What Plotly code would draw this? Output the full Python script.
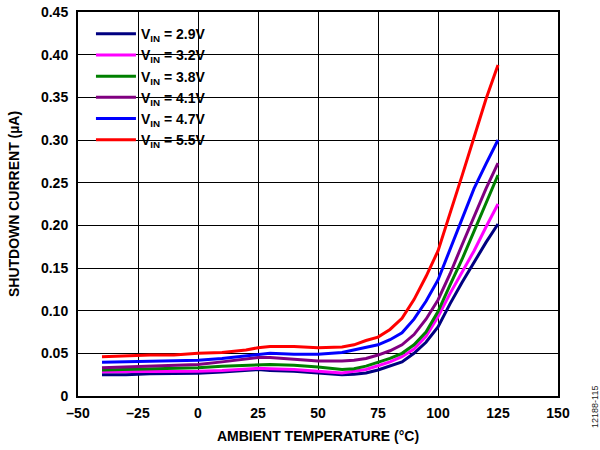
import plotly.graph_objects as go

temps = [-40, -30, -20, -10, 0, 10, 20, 25, 30, 40, 50, 60, 65, 70, 75, 80, 85, 90, 95, 100, 105, 110, 115, 120, 125]

i_29 = [0.025, 0.025, 0.026, 0.026, 0.0266, 0.028, 0.030, 0.031, 0.030, 0.029, 0.027, 0.025, 0.0255, 0.027, 0.0305, 0.035, 0.040, 0.050, 0.063, 0.081, 0.108, 0.133, 0.157, 0.180, 0.2016]
i_32 = [0.0285, 0.0285, 0.029, 0.029, 0.029, 0.030, 0.032, 0.0325, 0.032, 0.031, 0.029, 0.027, 0.029, 0.031, 0.0355, 0.040, 0.046, 0.055, 0.070, 0.093, 0.120, 0.145, 0.170, 0.198, 0.225]
i_38 = [0.0305, 0.031, 0.032, 0.032, 0.033, 0.035, 0.036, 0.037, 0.037, 0.036, 0.034, 0.031, 0.032, 0.035, 0.0395, 0.044, 0.050, 0.060, 0.075, 0.099, 0.130, 0.160, 0.193, 0.227, 0.259]
i_41 = [0.033, 0.034, 0.035, 0.036, 0.037, 0.040, 0.043, 0.045, 0.045, 0.043, 0.041, 0.041, 0.042, 0.044, 0.048, 0.053, 0.060, 0.072, 0.090, 0.1125, 0.143, 0.177, 0.210, 0.243, 0.273]
i_47 = [0.0395, 0.040, 0.041, 0.041, 0.042, 0.044, 0.047, 0.049, 0.050, 0.049, 0.049, 0.051, 0.054, 0.057, 0.060, 0.066, 0.074, 0.090, 0.111, 0.136, 0.172, 0.208, 0.243, 0.272, 0.300]
i_55 = [0.046, 0.047, 0.048, 0.048, 0.050, 0.051, 0.054, 0.0565, 0.058, 0.058, 0.0565, 0.0575, 0.060, 0.065, 0.069, 0.078, 0.091, 0.113, 0.140, 0.170, 0.213, 0.258, 0.303, 0.348, 0.388]

series_names = ["V<sub>IN</sub> = 2.9V", "V<sub>IN</sub> = 3.2V", "V<sub>IN</sub> = 3.8V",
                "V<sub>IN</sub> = 4.1V", "V<sub>IN</sub> = 4.7V", "V<sub>IN</sub> = 5.5V"]
series_values = [i_29, i_32, i_38, i_41, i_47, i_55]
series_colors = ["#000080", "#FF00FF", "#008000", "#800080", "#0000FF", "#FF0000"]

x_ticks = [-50, -25, 0, 25, 50, 75, 100, 125, 150]
x_ticktext = ["–50", "–25", "0", "25", "50", "75", "100", "125", "150"]
y_ticks = [0, 0.05, 0.10, 0.15, 0.20, 0.25, 0.30, 0.35, 0.40, 0.45]
y_ticktext = ["0", "0.05", "0.10", "0.15", "0.20", "0.25", "0.30", "0.35", "0.40", "0.45"]

font_family = "Liberation Sans, Arial, sans-serif"

fig = go.Figure()
for name, vals, col in zip(series_names, series_values, series_colors):
    fig.add_trace(go.Scatter(x=temps, y=vals, mode="lines", name=name,
                             line=dict(color=col, width=3)))

# white patch behind the legend (covers gridlines, not ticks)
fig.add_shape(type="rect", xref="paper", yref="paper", x0=0.003, x1=0.306, y0=0.645, y1=0.997,
              fillcolor="white", line=dict(width=0), layer="between")

axis_common = dict(showline=True, linecolor="black", linewidth=2, mirror="ticks",
                   ticks="inside", ticklen=5, tickcolor="black", tickwidth=1,
                   showgrid=True, gridcolor="black", gridwidth=1, zeroline=False,
                   automargin=False, ticklabeloverflow="allow",
                   tickfont=dict(family=font_family, size=14, color="black", weight="bold"))

fig.update_xaxes(range=[-50, 150], tickvals=x_ticks, ticktext=x_ticktext, ticklabelstandoff=3,
                 title=dict(text="AMBIENT TEMPERATURE (°C)", standoff=11,
                            font=dict(family=font_family, size=14, color="black", weight="bold")),
                 **axis_common)
fig.update_yaxes(range=[0, 0.45], tickvals=y_ticks, ticktext=y_ticktext, ticklabelstandoff=5,
                 title=dict(text="SHUTDOWN CURRENT (µA)", standoff=18,
                            font=dict(family=font_family, size=14, color="black", weight="bold")),
                 **axis_common)

fig.update_layout(
    width=600, height=450,
    margin=dict(l=78, r=42, t=12, b=54),
    paper_bgcolor="white", plot_bgcolor="white",
    font=dict(family=font_family, color="black"),
    legend=dict(x=0.027, y=0.984, xanchor="left", yanchor="top",
                bgcolor="rgba(0,0,0,0)", borderwidth=0,
                font=dict(family=font_family, size=14, color="black", weight="bold"),
                itemwidth=40, tracegroupgap=0),
    showlegend=True,
)

fig.add_annotation(text="12188-115", xref="paper", yref="paper", x=1.077, y=-0.0286,
                   xanchor="center", yanchor="middle", textangle=-90, showarrow=False,
                   font=dict(family=font_family, size=9, color="#222222"))

# remove the browser's default 8px body margin so the figure sits at the page origin
fig.write_html("out.html", config={"displayModeBar": False},
               post_script="document.body.style.margin='0';")
